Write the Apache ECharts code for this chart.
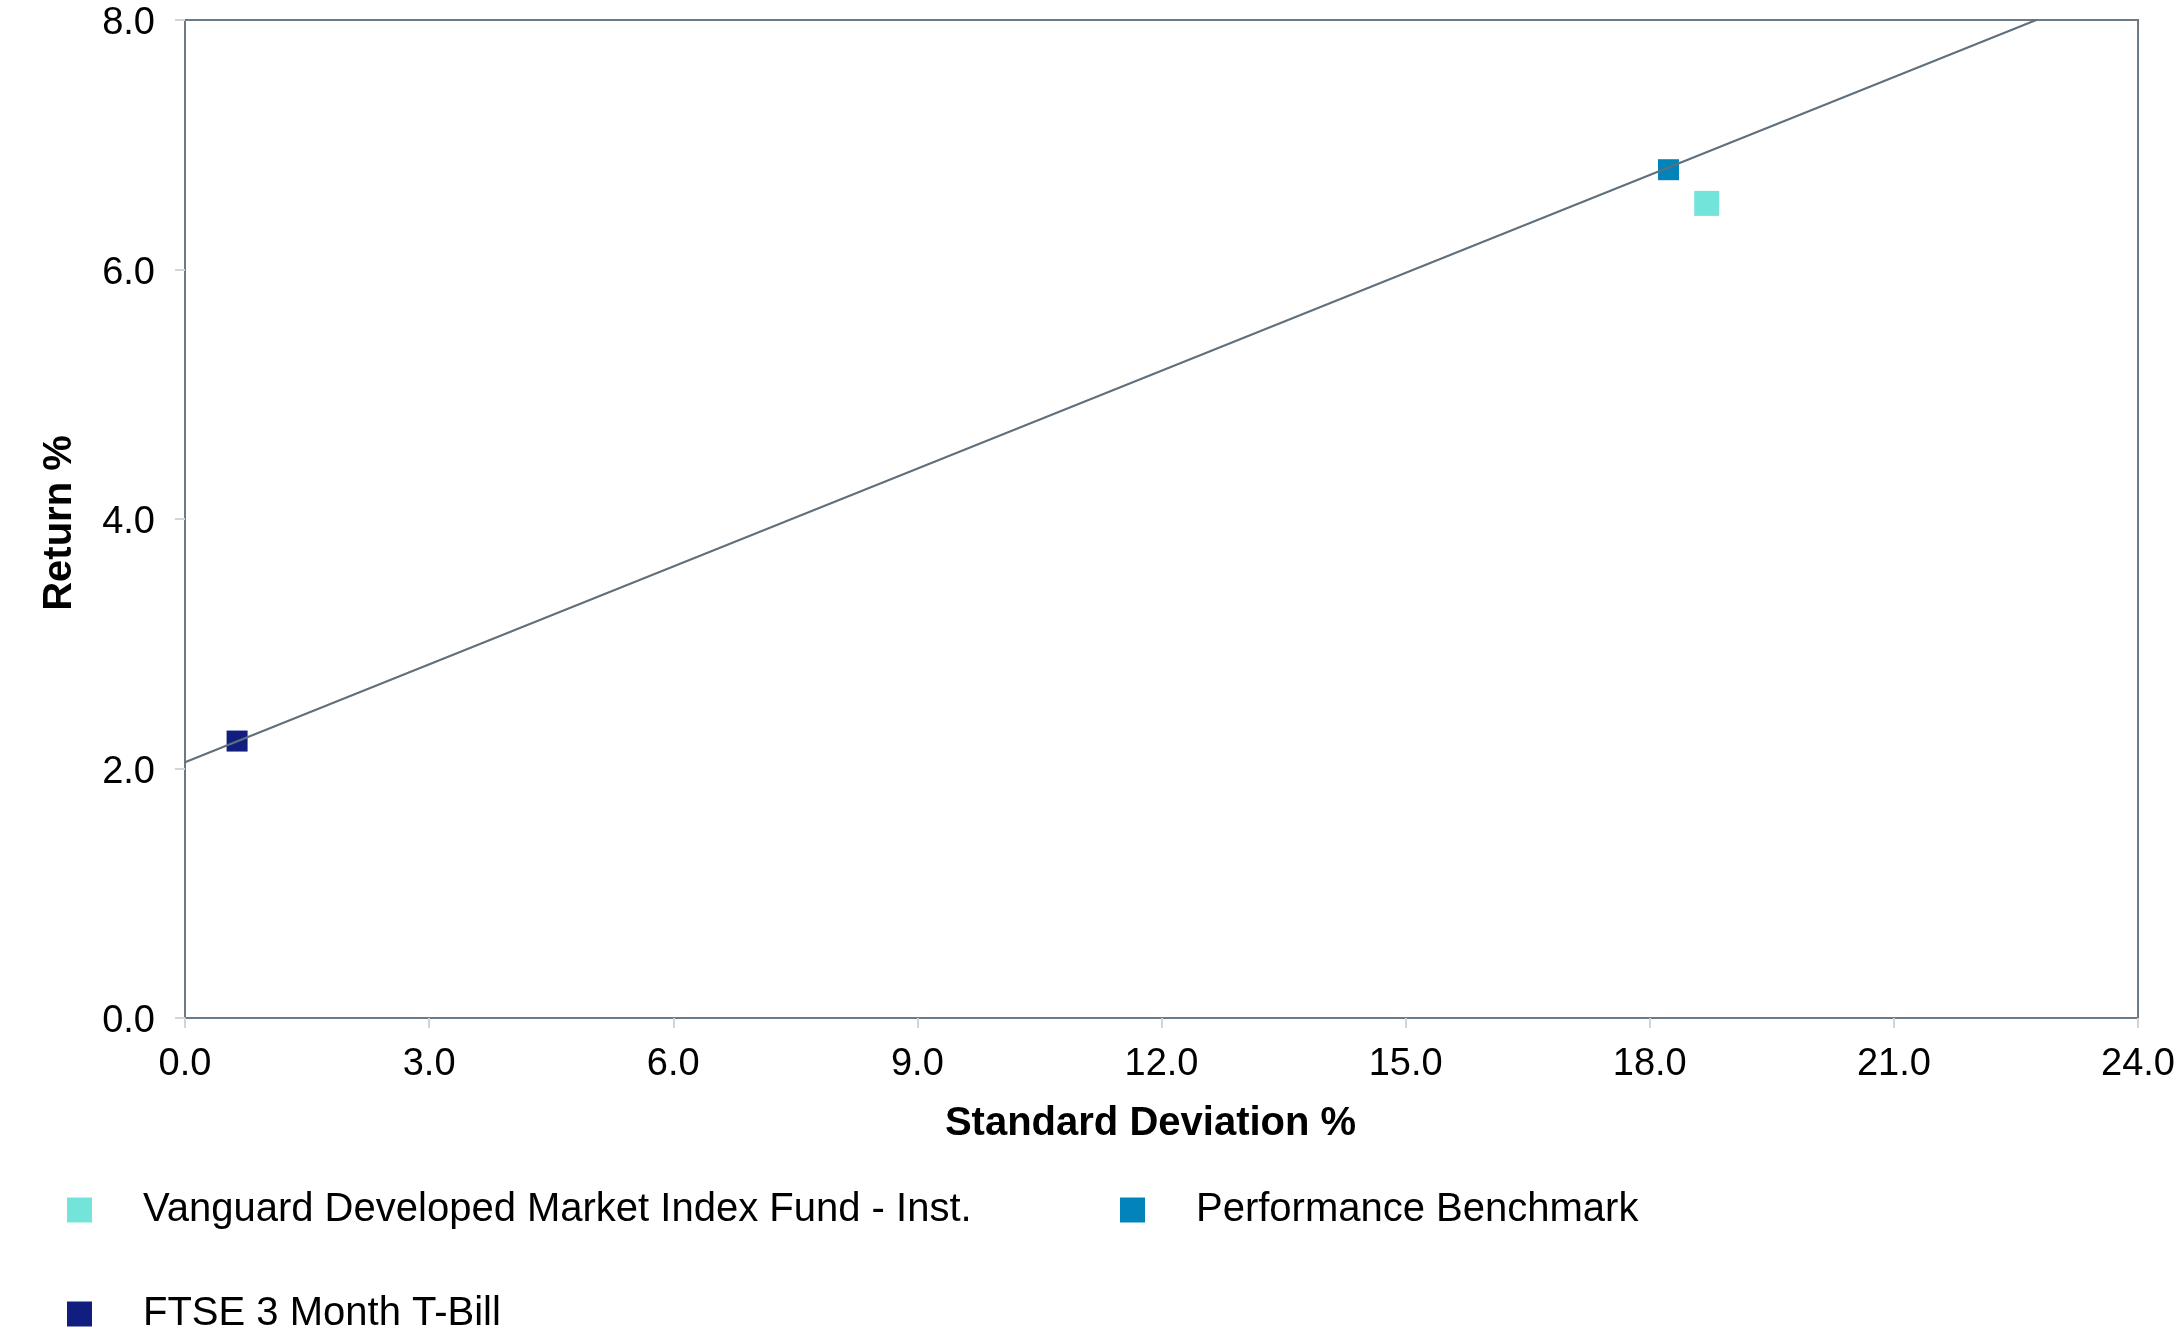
<!DOCTYPE html>
<html>
<head>
<meta charset="utf-8">
<script src="https://cdn.jsdelivr.net/npm/echarts@6/dist/echarts.min.js"></script>
<style>
  html, body { margin: 0; padding: 0; background: #fff; }
  #chart { width: 2178px; height: 1335px; }
</style>
</head>
<body>
<div id="chart"></div>
<script>
// risk / return points: [standard deviation %, return %]
var seriesNames = ['Vanguard Developed Market Index Fund - Inst.', 'Performance Benchmark', 'FTSE 3 Month T-Bill'];
var seriesColors = ['#73e4da', '#0284bb', '#111e80'];
var fundPoint = [[18.70, 6.53]];
var benchmarkPoint = [[18.23, 6.80]];
var tbillPoint = [[0.64, 2.22]];
// capital market line end points
var cmlPoints = [[0, 2.05], [22.75, 8.0]];

var xTicks = { min: 0, max: 24, interval: 3 };
var yTicks = { min: 0, max: 8, interval: 2 };

var chart = echarts.init(document.getElementById('chart'));

var axisColor = '#6b7a87';
var font = 'Liberation Sans, Arial, Helvetica, sans-serif';

chart.setOption({
  animation: false,
  grid: {
    left: 185, top: 20, right: 37, bottom: 317,
    show: true, borderColor: axisColor, borderWidth: 2,
    containLabel: false
  },
  legend: {
    left: 62, top: 1185, width: 2100,
    itemWidth: 25, itemHeight: 25, itemGap: 64,
    icon: 'rect',
    data: seriesNames,
    textStyle: {
      fontFamily: font, fontSize: 40, color: '#000',
      width: 913, lineHeight: 40, padding: [0, 0, 0, 46]
    }
  },
  xAxis: {
    type: 'value',
    min: xTicks.min, max: xTicks.max, interval: xTicks.interval,
    name: 'Standard Deviation %',
    nameLocation: 'middle', nameGap: 86,
    nameTextStyle: { fontFamily: font, fontSize: 40, fontWeight: 'bold', color: '#000', padding: [0, 22, 0, 0] },
    axisLine: { show: true, lineStyle: { color: axisColor, width: 2 } },
    axisTick: { show: true, length: 10, lineStyle: { color: '#d4d4d4', width: 2 } },
    axisLabel: {
      fontFamily: font, fontSize: 38, color: '#000', margin: 28,
      formatter: function (v) { return v.toFixed(1); }
    },
    splitLine: { show: false }
  },
  yAxis: {
    type: 'value',
    min: yTicks.min, max: yTicks.max, interval: yTicks.interval,
    name: 'Return %',
    nameLocation: 'middle', nameGap: 105,
    nameTextStyle: { fontFamily: font, fontSize: 40, fontWeight: 'bold', color: '#000', padding: [0, 8, 0, 0] },
    axisLine: { show: true, lineStyle: { color: axisColor, width: 2 } },
    axisTick: { show: true, length: 10, lineStyle: { color: '#d4d4d4', width: 2 } },
    axisLabel: {
      fontFamily: font, fontSize: 38, color: '#000', margin: 30,
      formatter: function (v) { return '{v|' + v.toFixed(1) + '}'; },
      rich: { v: { fontFamily: font, fontSize: 38, color: '#000', padding: [8, 0, 0, 0] } }
    },
    splitLine: { show: false }
  },
  series: [
    {
      name: seriesNames[0], type: 'scatter', symbol: 'rect', symbolSize: 25,
      itemStyle: { color: seriesColors[0], opacity: 1 }, data: fundPoint, z: 2
    },
    {
      name: seriesNames[1], type: 'scatter', symbol: 'rect', symbolSize: 21,
      itemStyle: { color: seriesColors[1], opacity: 1 }, data: benchmarkPoint, z: 2
    },
    {
      name: seriesNames[2], type: 'scatter', symbol: 'rect', symbolSize: 21,
      itemStyle: { color: seriesColors[2], opacity: 1 }, data: tbillPoint, z: 2
    },
    {
      name: 'CML', type: 'line', data: cmlPoints, showSymbol: false, symbol: 'none',
      lineStyle: { color: '#5f6f7c', width: 2 }, z: 3, silent: true
    }
  ]
});
</script>
</body>
</html>
